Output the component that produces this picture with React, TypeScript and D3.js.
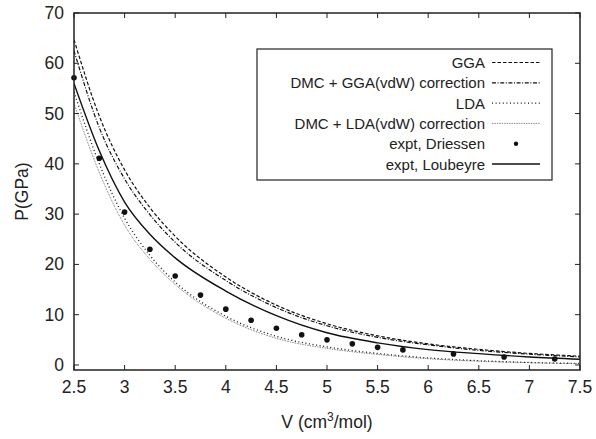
import React from 'react';
import { scaleLinear, line as d3Line, curveMonotoneX, range } from 'd3';

const vGrid = [2.5, 2.75, 3.0, 3.25, 3.5, 4.0, 4.5, 5.0, 5.5, 6.0, 6.5, 7.0, 7.5];

const ggaP = [64.7, 49.5, 38.8, 31.3, 25.6, 17.5, 11.9, 8.2, 5.8, 4.2, 3.1, 2.3, 1.75];
const dmcGgaP = [62.5, 47.2, 37.0, 29.9, 24.4, 16.8, 11.4, 7.8, 5.5, 4.0, 2.9, 2.15, 1.6];
const ldaP = [54.3, 40.0, 29.2, 21.8, 16.5, 9.7, 5.7, 3.6, 2.3, 1.4, 0.85, 0.5, 0.3];
const dmcLdaP = [52.0, 38.3, 27.8, 21.0, 16.0, 9.3, 5.3, 3.3, 2.1, 1.25, 0.75, 0.45, 0.25];
const loubeyreP = [56.0, 42.6, 32.4, 26.0, 21.3, 14.7, 9.8, 6.4, 4.4, 3.05, 2.25, 1.6, 1.15];

// Driessen experimental points
const driessenV = [2.5, 2.75, 3.0, 3.25, 3.5, 3.75, 4.0, 4.25, 4.5, 4.75, 5.0, 5.25, 5.5, 5.75, 6.25, 6.75, 7.25];
const driessenP = [57.1, 41.1, 30.4, 23.0, 17.7, 13.9, 11.1, 8.9, 7.3, 6.0, 5.0, 4.2, 3.5, 3.0, 2.2, 1.6, 1.2];

const xTicks = [2.5, 3, 3.5, 4, 4.5, 5, 5.5, 6, 6.5, 7, 7.5];
const yTicks = [0, 10, 20, 30, 40, 50, 60, 70];

const legendLabels = [
  'GGA',
  'DMC + GGA(vdW) correction',
  'LDA',
  'DMC + LDA(vdW) correction',
  'expt, Driessen',
  'expt, Loubeyre',
];

const W = 596;
const H = 439;
const plot = { left: 74, right: 580, top: 13, bottom: 370 };
const font = '"Liberation Sans", Arial, Helvetica, sans-serif';

type Pt = { v: number; p: number };
const zip = (vs: number[], ps: number[]): Pt[] => vs.map((v, i) => ({ v, p: ps[i] }));

export default function App() {
  const x = scaleLinear().domain([2.5, 7.5]).range([plot.left, plot.right]);
  const y = scaleLinear().domain([-1, 70]).range([plot.bottom, plot.top]);

  const path = d3Line<Pt>()
    .x(d => x(d.v))
    .y(d => y(d.p))
    .curve(curveMonotoneX);

  const series = [
    { data: ggaP, dash: '3.5 2', width: 1.2, color: '#111' },
    { data: dmcGgaP, dash: '4 1.6 1 1.6', width: 1.2, color: '#111' },
    { data: ldaP, dash: '1 2.6', width: 1.3, color: '#111' },
    { data: dmcLdaP, dash: '0.7 1', width: 1, color: '#555' },
  ];

  const tickLen = 5;
  const legend = { x0: 257, x1: 552, y0: 49, y1: 180, textX: 485, lineX0: 492, lineX1: 540 };
  const rowY = range(legendLabels.length).map(i => 62.5 + i * 20.3);

  return (
    <svg
      width={W}
      height={H}
      viewBox={`0 0 ${W} ${H}`}
      style={{ position: 'absolute', left: 0, top: 0, background: '#fff' }}
      fontFamily={font}
    >
      <defs>
        <clipPath id="plot-clip">
          <rect x={plot.left} y={plot.top} width={plot.right - plot.left} height={plot.bottom - plot.top} />
        </clipPath>
      </defs>

      {/* curves */}
      <g clipPath="url(#plot-clip)" fill="none">
        {series.map((s, i) => (
          <path
            key={i}
            d={path(zip(vGrid, s.data)) || ''}
            stroke={s.color}
            strokeWidth={s.width}
            strokeDasharray={s.dash}
          />
        ))}
        <path d={path(zip(vGrid, loubeyreP)) || ''} stroke="#111" strokeWidth={1.4} />
      </g>

      {/* Driessen points */}
      <g fill="#111">
        {driessenV.map((v, i) => (
          <circle key={i} cx={x(v)} cy={y(driessenP[i])} r={2.8} />
        ))}
      </g>

      {/* ticks, mirrored on all sides */}
      <g stroke="#222" strokeWidth={1}>
        {xTicks.map(t => (
          <g key={`x${t}`}>
            <line x1={x(t)} x2={x(t)} y1={plot.bottom} y2={plot.bottom - tickLen} />
            <line x1={x(t)} x2={x(t)} y1={plot.top} y2={plot.top + tickLen} />
          </g>
        ))}
        {yTicks.map(t => (
          <g key={`y${t}`}>
            <line x1={plot.left} x2={plot.left + tickLen} y1={y(t)} y2={y(t)} />
            <line x1={plot.right} x2={plot.right - tickLen} y1={y(t)} y2={y(t)} />
          </g>
        ))}
      </g>

      {/* frame */}
      <rect
        x={plot.left}
        y={plot.top}
        width={plot.right - plot.left}
        height={plot.bottom - plot.top}
        fill="none"
        stroke="#222"
        strokeWidth={1.5}
      />

      {/* tick labels */}
      <g fontSize={17.5} fill="#222">
        {xTicks.map(t => (
          <text key={`xl${t}`} x={x(t)} y={393} textAnchor="middle">
            {String(t)}
          </text>
        ))}
        {yTicks.map(t => (
          <text key={`yl${t}`} x={64} y={y(t) + 6} textAnchor="end">
            {String(t)}
          </text>
        ))}
      </g>

      {/* axis titles */}
      <text x={(plot.left + plot.right) / 2} y={428} textAnchor="middle" fontSize={17.5} fill="#222">
        V (cm<tspan dy={-7} fontSize={12}>3</tspan>
        <tspan dy={7}>/mol)</tspan>
      </text>
      <text
        transform={`translate(28, ${(plot.top + plot.bottom) / 2}) rotate(-90)`}
        textAnchor="middle"
        fontSize={17.5}
        fill="#222"
      >
        P(GPa)
      </text>

      {/* legend */}
      <rect
        x={legend.x0}
        y={legend.y0}
        width={legend.x1 - legend.x0}
        height={legend.y1 - legend.y0}
        fill="#fff"
        stroke="#222"
        strokeWidth={1.2}
      />
      <g fontSize={15} fill="#222">
        {legendLabels.map((lab, i) => (
          <text key={lab} x={legend.textX} y={rowY[i] + 5.5} textAnchor="end">
            {lab}
          </text>
        ))}
      </g>
      {series.map((s, i) => (
        <line
          key={`lg${i}`}
          x1={legend.lineX0}
          x2={legend.lineX1}
          y1={rowY[i]}
          y2={rowY[i]}
          stroke={s.color}
          strokeWidth={s.width}
          strokeDasharray={s.dash}
        />
      ))}
      <circle cx={(legend.lineX0 + legend.lineX1) / 2} cy={rowY[4]} r={2.2} fill="#111" />
      <line x1={legend.lineX0} x2={legend.lineX1} y1={rowY[5]} y2={rowY[5]} stroke="#111" strokeWidth={1.4} />
    </svg>
  );
}
